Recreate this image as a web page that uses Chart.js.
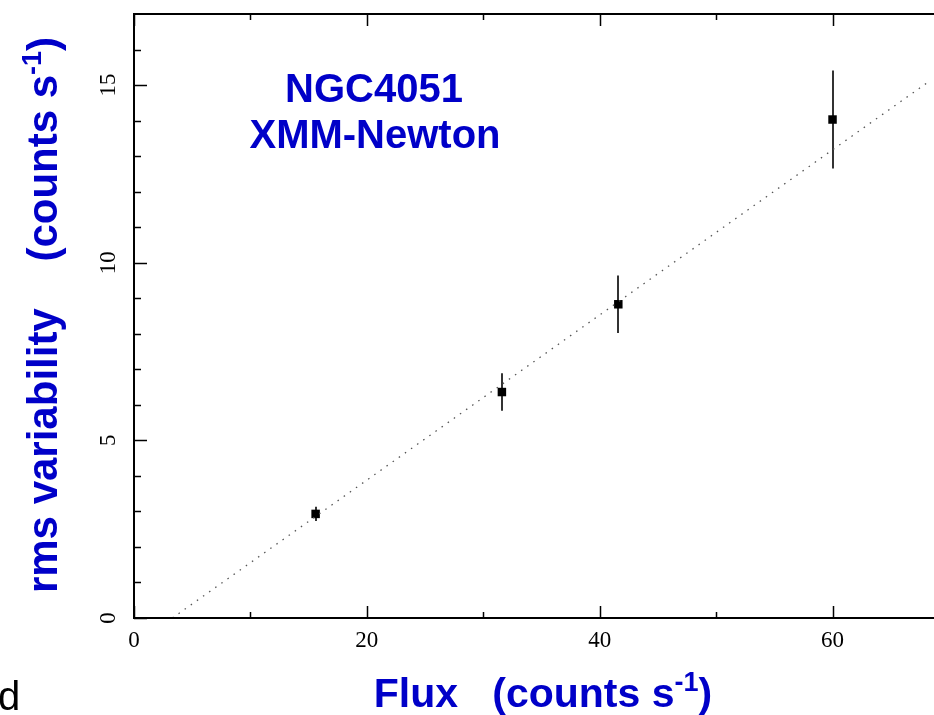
<!DOCTYPE html>
<html>
<head>
<meta charset="utf-8">
<script src="https://cdn.jsdelivr.net/npm/chart.js@4.4.1/dist/chart.umd.min.js"></script>
<style>
	html, body { margin: 0; padding: 0; background: #fff; overflow: hidden; }
	#wrap { position: relative; width: 934px; height: 715px; }
</style>
</head>
<body>
<div id="wrap"><canvas id="myChart" width="934" height="715"></canvas></div>
<script>
// data
const fluxX = [15.6, 31.6, 41.6, 60.0];
const rmsY = [2.93, 6.36, 8.83, 14.03];
const rmsErr = [0.20, 0.53, 0.81, 1.38];

// dotted linear fit (end points)
const fitX = [3.3, 70];
const fitY = [0, 15.5];

// axis ticks
const xMajor = [0, 20, 40, 60];
const xMinor = [10, 30, 50];
const yMajor = [0, 5, 10, 15];
const yMinor = [1, 2, 3, 4, 6, 7, 8, 9, 11, 12, 13, 14, 16];

const blue = "#0000c8";
const tickFont = "23px 'Liberation Serif', 'DejaVu Serif', serif";

function drawRich(ctx, parts, x, y, size) {
	const big = "bold " + size + "px 'Liberation Sans', Arial, sans-serif";
	const small = "bold " + Math.round(size * 0.65) + "px 'Liberation Sans', Arial, sans-serif";
	let total = 0;
	for (let i = 0; i < parts.length; i++) {
		ctx.font = parts[i].sup ? small : big;
		total += ctx.measureText(parts[i].t).width;
	}
	let cx = x - total / 2;
	ctx.textAlign = "left";
	ctx.textBaseline = "alphabetic";
	for (let i = 0; i < parts.length; i++) {
		ctx.font = parts[i].sup ? small : big;
		ctx.fillText(parts[i].t, cx, parts[i].sup ? y - size * 0.38 : y);
		cx += ctx.measureText(parts[i].t).width;
	}
}

const decor = {
	id: "decor",
	beforeDatasetsDraw(chart) {
		const ctx = chart.ctx;
		const xs = chart.scales.x;
		const ys = chart.scales.y;
		ctx.save();
		ctx.strokeStyle = "#333";
		ctx.lineWidth = 2;
		for (let i = 0; i < fluxX.length; i++) {
			let px = Math.round(xs.getPixelForValue(fluxX[i]));
			ctx.beginPath();
			ctx.moveTo(px, ys.getPixelForValue(rmsY[i] - rmsErr[i]));
			ctx.lineTo(px, ys.getPixelForValue(rmsY[i] + rmsErr[i]));
			ctx.stroke();
		}
		ctx.restore();
	},
	afterDraw(chart) {
		const ctx = chart.ctx;
		const xs = chart.scales.x;
		const ys = chart.scales.y;
		const a = chart.chartArea;
		ctx.save();

		// frame
		ctx.strokeStyle = "#000";
		ctx.lineWidth = 2;
		ctx.beginPath();
		ctx.moveTo(940, a.top);
		ctx.lineTo(a.left, a.top);
		ctx.lineTo(a.left, a.bottom);
		ctx.lineTo(940, a.bottom);
		ctx.stroke();

		// ticks
		ctx.lineWidth = 1.5;
		ctx.beginPath();
		xMajor.concat(xMinor).forEach(function(v) {
			let len = xMajor.includes(v) ? 12 : 6;
			let px = Math.round(xs.getPixelForValue(v)) + 0.5;
			ctx.moveTo(px, a.bottom);
			ctx.lineTo(px, a.bottom - len);
			ctx.moveTo(px, a.top);
			ctx.lineTo(px, a.top + len);
		});
		yMajor.concat(yMinor).forEach(function(v) {
			let len = yMajor.includes(v) ? 13 : 7;
			let py = Math.round(ys.getPixelForValue(v)) + 0.5;
			ctx.moveTo(a.left, py);
			ctx.lineTo(a.left + len, py);
		});
		ctx.stroke();

		// tick labels
		ctx.fillStyle = "#000";
		ctx.font = tickFont;
		ctx.textAlign = "center";
		ctx.textBaseline = "middle";
		xMajor.forEach(function(v) {
			ctx.fillText(String(v), xs.getPixelForValue(v), a.bottom + 23);
		});
		yMajor.forEach(function(v) {
			ctx.save();
			ctx.translate(a.left - 25, ys.getPixelForValue(v));
			ctx.rotate(-Math.PI / 2);
			ctx.fillText(String(v), 0, 0);
			ctx.restore();
		});

		// labels
		ctx.fillStyle = blue;
		ctx.font = "bold 40px 'Liberation Sans', Arial, sans-serif";
		ctx.textAlign = "center";
		ctx.textBaseline = "alphabetic";
		ctx.fillText("NGC4051", 374, 102);
		ctx.fillText("XMM-Newton", 375, 148);

		drawRich(ctx, [
			{ t: "Flux   (counts s", sup: false },
			{ t: "-1", sup: true },
			{ t: ")", sup: false }
		], 543, 707, 41);

		ctx.save();
		ctx.translate(57, 315);
		ctx.rotate(-Math.PI / 2);
		drawRich(ctx, [
			{ t: "rms variability    (counts s", sup: false },
			{ t: "-1", sup: true },
			{ t: ")", sup: false }
		], 0, 0, 42);
		ctx.restore();

		// stray letter at the bottom left
		ctx.fillStyle = "#000";
		ctx.font = "40px 'Liberation Sans', Arial, sans-serif";
		ctx.textAlign = "left";
		ctx.fillText("d", -2, 710);

		ctx.restore();
	}
};

const ctx = document.getElementById("myChart");

new Chart(ctx, {
	type: "scatter",
	data: {
		datasets: [
			{
				type: "line",
				label: "fit",
				data: fitX.map(function(x, i) { return { x: x, y: fitY[i] }; }),
				borderColor: "#555",
				borderWidth: 1.3,
				borderDash: [1.5, 6],
				pointRadius: 0,
				fill: false
			},
			{
				label: "rms",
				data: fluxX.map(function(x, i) { return { x: x, y: rmsY[i] }; }),
				pointStyle: "rect",
				pointRadius: 6,
				backgroundColor: "#000",
				borderColor: "#000",
				borderWidth: 0
			}
		]
	},
	options: {
		responsive: false,
		animation: false,
		layout: { padding: { left: 134, top: 14, right: 0, bottom: 97 } },
		plugins: {
			legend: { display: false },
			tooltip: { enabled: false }
		},
		scales: {
			x: { type: "linear", display: false, min: 0, max: 68.2 },
			y: { type: "linear", display: false, min: 0, max: 17 }
		}
	},
	plugins: [decor]
});
</script>
</body>
</html>
